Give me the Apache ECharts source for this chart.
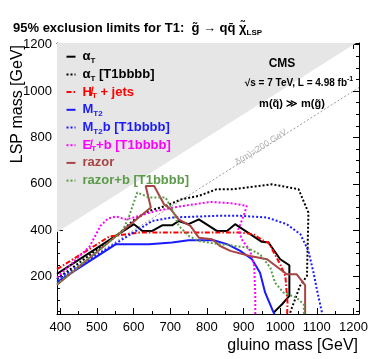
<!DOCTYPE html>
<html>
<head>
<meta charset="utf-8">
<script src="https://cdn.jsdelivr.net/npm/echarts@6/dist/echarts.min.js"></script>
<style>
html,body{margin:0;padding:0;background:#fff}
#main{width:374px;height:359px}
</style>
</head>
<body>
<div id="main"></div>
<script>
// axis ranges (GeV)
var xRange = [391, 1215];
var yRange = [39, 1207];

// curves: gluino mass / LSP mass
var aT_x   = [391, 601, 624, 651, 678, 705, 723, 750, 778, 827, 855, 877, 950, 968, 1000, 1025, 1025, 1005, 982];
var aT_y   = [212, 426, 397, 397, 421, 421, 440, 426, 447, 397, 397, 426, 350, 347, 275, 249, 117, 81, 45];

var aTb_x  = [391, 560, 597, 642, 687, 732, 778, 827, 873, 977, 1050, 1077, 1073, 1054, 1032, 1026];
var aTb_y  = [190, 385, 440, 483, 505, 534, 548, 577, 577, 598, 577, 476, 203, 160, 66, 39];

var HT_x   = [391, 534, 615, 891, 927, 955, 968, 1000, 1014, 1020, 1019];
var HT_y   = [232, 373, 390, 390, 383, 354, 347, 253, 203, 88, 39];

var MT2_x  = [391, 552, 642, 705, 750, 818, 855, 891, 923, 945, 959, 982, 985];
var MT2_y  = [176, 340, 340, 347, 357, 357, 340, 311, 275, 217, 131, 45, 39];

var MT2b_x = [391, 651, 705, 827, 891, 964, 1018, 1055, 1077, 1091, 1100, 1114, 1115];
var MT2b_y = [188, 440, 455, 462, 462, 455, 426, 383, 311, 217, 145, 45, 39];

var ETb_x  = [391, 480, 510, 530, 552, 579, 600, 660, 723, 796, 809, 864, 909, 900, 886, 895, 918, 929, 932, 932];
var ETb_y  = [196, 330, 420, 450, 459, 447, 455, 483, 502, 519, 522, 517, 505, 462, 404, 361, 311, 246, 120, 39];

var razor_x = [391, 647, 633, 656, 683, 701, 723, 755, 778, 814, 836, 864, 918, 964, 1018, 1045, 1068, 1068];
var razor_y = [165, 498, 591, 591, 512, 491, 447, 419, 368, 361, 332, 311, 289, 275, 210, 210, 163, 39];

var razorb_x = [391, 570, 588, 610, 642, 687, 705, 723, 750, 778, 832, 855, 909, 945, 973, 986, 1009, 1045, 1064, 1065];
var razorb_y = [167, 397, 462, 563, 541, 541, 491, 419, 376, 354, 340, 337, 325, 296, 239, 174, 131, 109, 81, 39];

var names = ['aT', 'aTb', 'HT', 'MT2', 'MT2b', 'ETb', 'razor', 'razorb'];
var labels = [
  '\u03b1{s|T}',
  '\u03b1{s|T} [T1bbbb]',
  'H\u0338{s|T} + jets',
  'M{s|T2}',
  'M{s|T2}b [T1bbbb]',
  'E\u0338{s|T}+b [T1bbbb]',
  'razor',
  'razor+b [T1bbbb]'
];
var xs = [aT_x, aTb_x, HT_x, MT2_x, MT2b_x, ETb_x, razor_x, razorb_x];
var ys = [aT_y, aTb_y, HT_y, MT2_y, MT2b_y, ETb_y, razor_y, razorb_y];
var colors = ['#000000', '#000000', '#ff0000', '#1a1aff', '#1a1aff', '#ff00ff', '#a84444', '#5b9a48'];
var dashes = ['solid', [2, 2], [5, 2, 1.5, 2], 'solid', [2, 2], [2, 2], 'solid', [2, 2]];

var FONT = '"Liberation Sans", Arial, sans-serif';

function pairs(a, b) {
  var out = [];
  for (var i = 0; i < a.length; i++) out.push([a[i], b[i]]);
  return out;
}

var series = [];
// kinematically forbidden region (LSP heavier than gluino)
series.push({
  type: 'line', silent: true, symbol: 'none', z: 1,
  data: [[xRange[0], xRange[0]], [yRange[1], yRange[1]]],
  lineStyle: {width: 0},
  areaStyle: {origin: 'end', color: '#e6e6e6', opacity: 1}
});
// delta m = 200 GeV line
series.push({
  type: 'line', silent: true, symbol: 'none', z: 2,
  data: [[xRange[0], xRange[0] - 200], [xRange[1], xRange[1] - 200]],
  lineStyle: {width: 1, color: '#9a9a9a', type: [2, 2]}
});
for (var i = 0; i < names.length; i++) {
  series.push({
    name: names[i],
    type: 'line',
    symbol: 'none',
    z: 5,
    data: pairs(xs[i], ys[i]),
    lineStyle: {color: colors[i], width: 2, type: dashes[i]}
  });
}

var axisCommon = {
  type: 'value',
  axisLine: {show: true, lineStyle: {color: '#000', width: 1}},
  axisTick: {show: true, inside: true, length: 6, lineStyle: {color: '#000'}},
  minorTick: {show: true, length: 3, lineStyle: {color: '#000'}},
  splitLine: {show: false}
};
function plain(v) { return String(v); }

var myChart = echarts.init(document.getElementById('main'));
var option = {
  animation: false,
  title: {
    text: '95% exclusion limits for T1:  g\u0303 \u2192 qq\u0304 \u03c7\u0303{s|LSP}',
    left: 8, top: 14,
    textStyle: {
      fontFamily: FONT, fontSize: 13, fontWeight: 'bold', color: '#000', lineHeight: 18,
      rich: {s: {fontSize: 8, fontWeight: 'bold', verticalAlign: 'bottom', lineHeight: 18}}
    }
  },
  grid: {left: 57, right: 15, top: 43, bottom: 45},
  xAxis: [
    echarts.util.merge({
      min: xRange[0], max: xRange[1], splitNumber: 8,
      minorTick: {splitNumber: 2},
      axisLabel: {fontFamily: FONT, fontSize: 13, color: '#000', margin: 7, formatter: plain,
                  showMinLabel: false, showMaxLabel: false}
    }, axisCommon, false),
    echarts.util.merge({
      position: 'top', min: xRange[0], max: xRange[1], splitNumber: 8,
      minorTick: {splitNumber: 2},
      axisLabel: {show: false}
    }, axisCommon, false)
  ],
  yAxis: [
    echarts.util.merge({
      min: yRange[0], max: yRange[1], splitNumber: 6,
      minorTick: {splitNumber: 4},
      axisLabel: {fontFamily: FONT, fontSize: 13, color: '#000', margin: 5, formatter: plain,
                  showMinLabel: false, showMaxLabel: false}
    }, axisCommon, false),
    echarts.util.merge({
      position: 'right', min: yRange[0], max: yRange[1], splitNumber: 6,
      minorTick: {splitNumber: 4},
      axisLabel: {show: false}
    }, axisCommon, false)
  ],
  series: series
};

if (option && typeof option === "object") {
  myChart.setOption(option, true);
}

// legend drawn by hand (line samples + rich text)
var graphics = [];
for (var i = 0; i < names.length; i++) {
  var ly = 56.7 + i * 17.7;
  graphics.push({
    type: 'line', z: 100,
    shape: {x1: 66.5, y1: ly, x2: 75.5, y2: ly},
    style: {stroke: colors[i], lineWidth: 2, lineDash: dashes[i] === 'solid' ? null : dashes[i]}
  });
  graphics.push({
    type: 'text', z: 100, x: 82.5, y: ly,
    style: {
      text: labels[i], font: 'bold 13px ' + FONT, fill: colors[i], verticalAlign: 'middle', lineHeight: 16,
      rich: {s: {fontSize: 8, fontWeight: 'bold', fontFamily: FONT, verticalAlign: 'bottom', lineHeight: 16}}
    }
  });
}

// annotations
var dmPos = myChart.convertToPixel({gridIndex: 0}, [948, 757]);
graphics.push(
  {type: 'text', z: 100, x: 18, y: 45, rotation: Math.PI / 2,
   style: {text: 'LSP mass [GeV]', font: '16px ' + FONT, fill: '#000', align: 'right', verticalAlign: 'middle'}},
  {type: 'text', z: 100, x: 358, y: 346,
   style: {text: 'gluino mass [GeV]', font: '16px ' + FONT, fill: '#000', align: 'right', verticalAlign: 'middle'}},
  {type: 'text', z: 100, x: 282, y: 64,
   style: {text: 'CMS', font: 'bold 12px ' + FONT, fill: '#000', align: 'center', verticalAlign: 'middle'}},
  {type: 'text', z: 100, x: 299, y: 83,
   style: {text: '\u221as = 7 TeV, L = 4.98 fb{p|-1}', font: 'bold 10px ' + FONT, fill: '#000', align: 'center',
     verticalAlign: 'middle', lineHeight: 14,
     rich: {p: {fontSize: 7, fontWeight: 'bold', fontFamily: FONT, verticalAlign: 'top', lineHeight: 14}}}},
  {type: 'text', z: 100, x: 292, y: 104,
   style: {text: 'm(q\u0303) \u226b m(g\u0303)', font: 'bold 11px ' + FONT, fill: '#000', align: 'center', verticalAlign: 'middle'}},
  {type: 'text', z: 100, x: dmPos[0], y: dmPos[1], rotation: Math.atan(0.2323 / 0.367),
   style: {text: '\u03b4(m)=200 GeV', font: '9px ' + FONT, fill: '#b0b0b0', align: 'center', verticalAlign: 'middle'}}
);
myChart.setOption({graphic: graphics});
</script>
</body>
</html>
